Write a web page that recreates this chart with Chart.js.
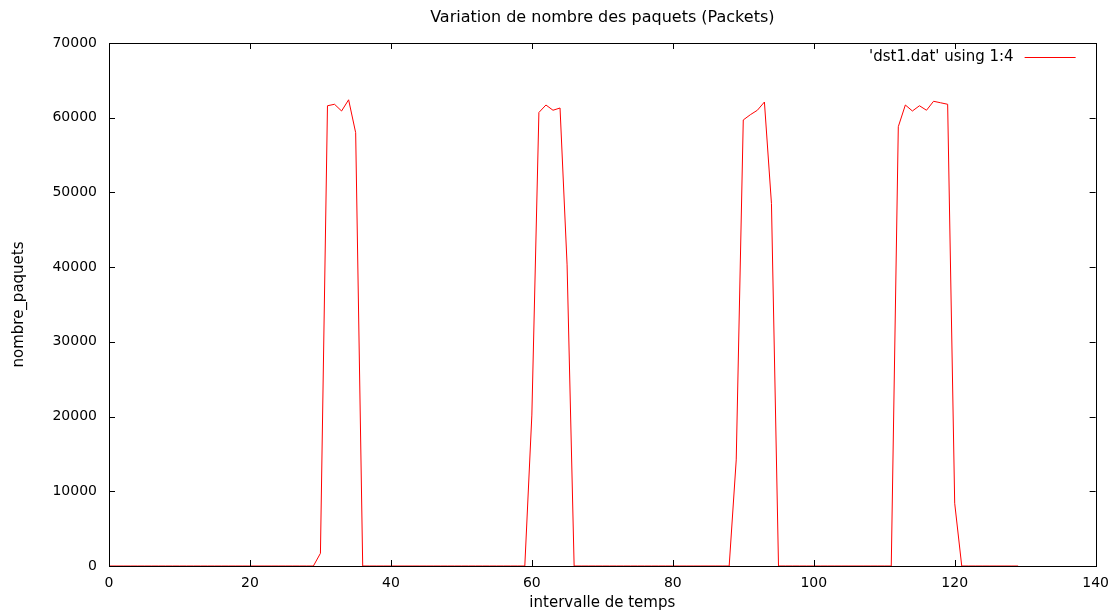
<!DOCTYPE html>
<html>
<head>
<meta charset="utf-8">
<title>Variation de nombre des paquets</title>
<script src="https://cdn.jsdelivr.net/npm/chart.js@4.4.1/dist/chart.umd.min.js"></script>
<style>
    html, body { margin: 0; padding: 0; background: #fff; }
    #wrap { width: 1118px; height: 616px; }
</style>
</head>
<body>
<div id="wrap"><canvas id="packetChart" width="1118" height="616"></canvas></div>
<script>
// intervals 0..129
const intervals = [];
for (let i = 0; i <= 129; i++) intervals.push(i);

// nombre de paquets per interval
const packets = [
    0, 0, 0, 0, 0, 0, 0, 0, 0, 0,
    0, 0, 0, 0, 0, 0, 0, 0, 0, 0,
    0, 0, 0, 0, 0, 0, 0, 0, 0, 0,
    1700, 61600, 61800, 60900, 62400, 58000, 0, 0, 0, 0,
    0, 0, 0, 0, 0, 0, 0, 0, 0, 0,
    0, 0, 0, 0, 0, 0, 0, 0, 0, 0,
    20200, 60700, 61700, 61000, 61300, 40300, 0, 0, 0, 0,
    0, 0, 0, 0, 0, 0, 0, 0, 0, 0,
    0, 0, 0, 0, 0, 0, 0, 0, 0, 14200,
    59700, 60400, 61000, 62100, 48500, 0, 0, 0, 0, 0,
    0, 0, 0, 0, 0, 0, 0, 0, 0, 0,
    0, 0, 58800, 61700, 60900, 61600, 61000, 62200, 62000, 61800,
    8400, 0, 0, 0, 0, 0, 0, 0, 0, 0
];

const xTicks = [0, 20, 40, 60, 80, 100, 120, 140];
const yTicks = [0, 10000, 20000, 30000, 40000, 50000, 60000, 70000];
const seriesLabel = "'dst1.dat' using 1:4";

const FONT = 'DejaVu Sans, Verdana, sans-serif';

// gnuplot-like frame: border box, inward ticks on all sides, key top right
const framePlugin = {
    id: 'frame',
    afterDraw(chart) {
        const ctx = chart.ctx;
        const a = chart.chartArea;
        const xs = chart.scales.x;
        const ys = chart.scales.y;
        const tl = 6;
        ctx.save();
        ctx.strokeStyle = '#000';
        ctx.lineWidth = 1;
        ctx.strokeRect(Math.round(a.left) + 0.5, Math.round(a.top) + 0.5,
            Math.round(a.right - a.left), Math.round(a.bottom - a.top));
        ctx.beginPath();
        xTicks.forEach(v => {
            const px = Math.round(xs.getPixelForValue(v)) + 0.5;
            ctx.moveTo(px, a.bottom); ctx.lineTo(px, a.bottom - tl);
            ctx.moveTo(px, a.top); ctx.lineTo(px, a.top + tl);
        });
        yTicks.forEach(v => {
            const py = Math.round(ys.getPixelForValue(v)) + 0.5;
            ctx.moveTo(a.left, py); ctx.lineTo(a.left + tl, py);
            ctx.moveTo(a.right, py); ctx.lineTo(a.right - tl, py);
        });
        ctx.stroke();

        // key
        const ky = a.top + 14;
        ctx.font = '15px ' + FONT;
        ctx.fillStyle = '#000';
        ctx.textAlign = 'right';
        ctx.textBaseline = 'middle';
        ctx.fillText(seriesLabel, a.right - 82, ky);
        ctx.strokeStyle = '#ff0000';
        ctx.beginPath();
        ctx.moveTo(a.right - 71, ky + 0.5);
        ctx.lineTo(a.right - 20, ky + 0.5);
        ctx.stroke();
        ctx.restore();
    }
};

new Chart(document.getElementById('packetChart').getContext('2d'), {
    type: 'line',
    data: {
        labels: intervals,
        datasets: [{
            label: seriesLabel,
            data: intervals.map((x, i) => ({ x: x, y: packets[i] })),
            borderColor: '#ff0000',
            borderWidth: 1,
            pointRadius: 0,
            tension: 0,
            fill: false
        }]
    },
    options: {
        responsive: false,
        animation: false,
        layout: { padding: { top: 0, right: 21, bottom: 0, left: 0 } },
        plugins: {
            legend: { display: false },
            tooltip: { enabled: false },
            title: {
                display: true,
                fullSize: false,
                text: 'Variation de nombre des paquets (Packets)',
                color: '#000',
                font: { family: FONT, size: 16, weight: 'normal' },
                padding: { top: 8, bottom: 15.8 }
            }
        },
        scales: {
            x: {
                type: 'linear',
                min: 0,
                max: 140,
                grid: { display: false, drawTicks: false },
                border: { display: false },
                afterBuildTicks: s => { s.ticks = xTicks.map(v => ({ value: v })); },
                afterFit: s => { s.height = 50; },
                ticks: {
                    color: '#000',
                    padding: 9,
                    font: { family: FONT, size: 14 }
                },
                title: {
                    display: true,
                    text: 'intervalle de temps',
                    color: '#000',
                    font: { family: FONT, size: 15 },
                    padding: { top: 0, bottom: 4 }
                }
            },
            y: {
                min: 0,
                max: 70000,
                grid: { display: false, drawTicks: false },
                border: { display: false },
                afterBuildTicks: s => { s.ticks = yTicks.map(v => ({ value: v })); },
                afterFit: s => { s.width = 109; },
                ticks: {
                    color: '#000',
                    padding: 12,
                    font: { family: FONT, size: 14 },
                    callback: v => String(v)
                },
                title: {
                    display: true,
                    text: 'nombre_paquets',
                    color: '#000',
                    font: { family: FONT, size: 15 },
                    padding: { top: 10, bottom: 0 }
                }
            }
        }
    },
    plugins: [framePlugin]
});
</script>
</body>
</html>
